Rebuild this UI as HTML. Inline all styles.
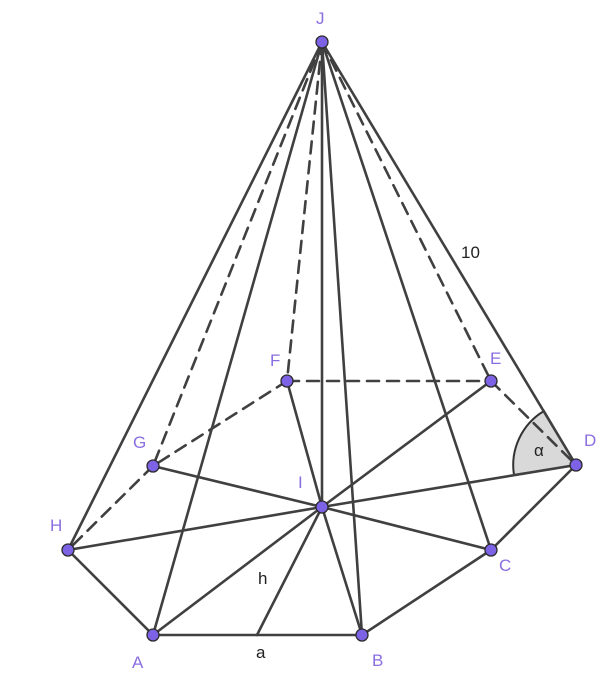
<!DOCTYPE html>
<html><head><meta charset="utf-8"><style>
html,body{margin:0;padding:0;background:#fff;}
svg{display:block;}
text{font-family:"Liberation Sans",sans-serif;}
</style></head><body>
<svg width="609" height="684" viewBox="0 0 609 684" xmlns="http://www.w3.org/2000/svg">
<path d="M576,465 L544,411 A63,63 0 0 0 514,475 Z" fill="#d9d9d9" stroke="#333" stroke-width="2"/>
<g stroke="#404040" stroke-width="2.6" fill="none" stroke-linecap="round">
<g stroke-dasharray="12,8">
<line x1="322" y1="42" x2="153" y2="466"/>
<line x1="322" y1="42" x2="287" y2="381"/>
<line x1="322" y1="42" x2="491" y2="381"/>
<line x1="287" y1="381" x2="491" y2="381"/>
<line x1="287" y1="381" x2="153" y2="466"/>
<line x1="153" y1="466" x2="68" y2="550"/>
<line x1="491" y1="381" x2="576" y2="465"/>
</g>
<line x1="322" y1="42" x2="68" y2="550"/>
<line x1="322" y1="42" x2="153" y2="635"/>
<line x1="322" y1="42" x2="322" y2="507"/>
<line x1="322" y1="42" x2="362" y2="635"/>
<line x1="322" y1="42" x2="491" y2="550"/>
<line x1="322" y1="42" x2="576" y2="465"/>
<line x1="68" y1="550" x2="153" y2="635"/>
<line x1="153" y1="635" x2="362" y2="635"/>
<line x1="362" y1="635" x2="491" y2="550"/>
<line x1="491" y1="550" x2="576" y2="465"/>
<line x1="322" y1="507" x2="153" y2="466"/>
<line x1="322" y1="507" x2="287" y2="381"/>
<line x1="322" y1="507" x2="491" y2="381"/>
<line x1="322" y1="507" x2="576" y2="465"/>
<line x1="322" y1="507" x2="491" y2="550"/>
<line x1="322" y1="507" x2="362" y2="635"/>
<line x1="322" y1="507" x2="153" y2="635"/>
<line x1="322" y1="507" x2="68" y2="550"/>
<line x1="322" y1="507" x2="257" y2="635"/>
</g>
<g fill="#7d62e6" stroke="#2b2b2b" stroke-width="1.3">
<circle cx="322" cy="42" r="6"/><circle cx="287" cy="381" r="6"/><circle cx="491" cy="381" r="6"/>
<circle cx="153" cy="466" r="6"/><circle cx="576" cy="465" r="6"/><circle cx="322" cy="507" r="6"/>
<circle cx="68" cy="550" r="6"/><circle cx="491" cy="550" r="6"/><circle cx="153" cy="635" r="6"/>
<circle cx="362" cy="635" r="6"/>
</g>
<g fill="#8a6ee0" font-size="17">
<text x="316" y="24">J</text><text x="270" y="366">F</text><text x="490" y="364">E</text>
<text x="133" y="448">G</text><text x="584" y="446">D</text><text x="298" y="488">I</text>
<text x="50" y="531">H</text><text x="499" y="571">C</text><text x="132" y="668">A</text>
<text x="372" y="666">B</text>
</g>
<g fill="#222" font-size="17">
<text x="461" y="258">10</text><text x="534" y="456">α</text>
<text x="258" y="584">h</text><text x="256" y="658">a</text>
</g>
</svg>
</body></html>
